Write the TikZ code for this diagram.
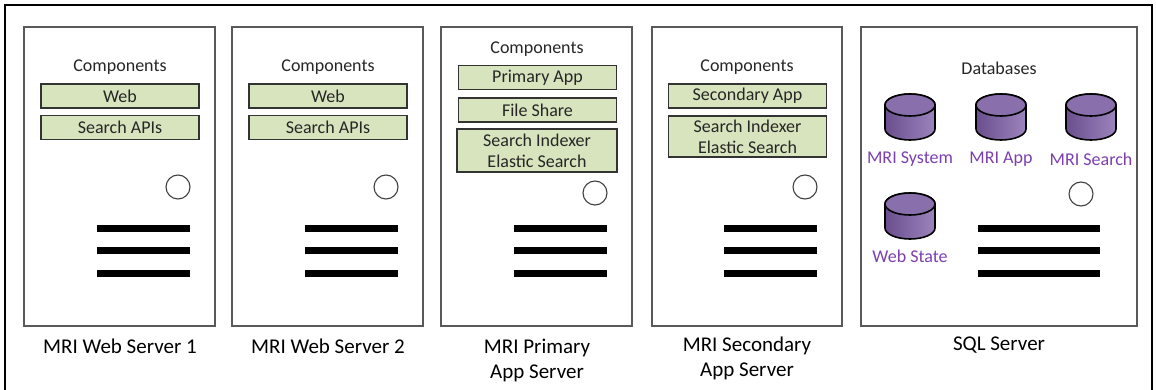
\documentclass[tikz,border=0pt]{standalone}
\usepackage{fontspec}
\setmainfont{Carlito}

\definecolor{compgreen}{HTML}{D7E4BD}
\definecolor{dbdark}{HTML}{6A4E8E}
\definecolor{dblight}{HTML}{9C84BC}
\definecolor{dbtop}{HTML}{8A6FAD}
\definecolor{dbtext}{HTML}{7B3FB0}
\definecolor{boxgray}{HTML}{595959}
\definecolor{txtgray}{HTML}{262626}

\tikzset{
  serverbox/.style={draw=boxgray, line width=1.3},
  compbox/.style={draw=black!80, line width=1.3, fill=compgreen, text=txtgray,
    minimum width=158, minimum height=24, inner sep=0, align=center,
    font=\fontsize{18}{21}\selectfont},
  headtext/.style={text=txtgray, inner sep=0, font=\fontsize{18}{21}\selectfont},
  srvlabel/.style={text=black, inner sep=0, align=center,
    font=\fontsize{21}{25}\selectfont},
  ledcirc/.style={circle, draw=black!75, line width=1.1, minimum size=24, inner sep=0},
  barline/.style={black, line width=7},
  dbside/.style={draw=black, line width=1.6, left color=dbdark, right color=dblight},
  dbend/.style={draw=black, line width=1.6, fill=dbtop},
  dbname/.style={text=dbtext, inner sep=0, font=\fontsize{18}{21}\selectfont}
}

\begin{document}
\begin{tikzpicture}[x=1pt, y=-1pt]

\useasboundingbox (0,0) rectangle (1156,390);

% outer frame
\draw[black, line width=1.3] (5,392) -- (5,5) -- (1152,5) -- (1152,392);

% server boxes
\draw[serverbox] (24,27) rectangle (215,326);
\draw[serverbox] (232,27) rectangle (423,326);
\draw[serverbox] (441,27) rectangle (632,326);
\draw[serverbox] (652,27) rectangle (842,326);
\draw[serverbox] (861,27) rectangle (1137,326);

% web server 1
\draw (120,67) node (comp1) [headtext] {Components};
\draw (120,96) node (web1) [compbox] {Web};
\draw (120,127.5) node (api1) [compbox] {Search APIs};
\draw (178,187) node (led1) [ledcirc] {};
\draw[barline] (97,228) -- (190,228);
\draw[barline] (97,250) -- (190,250);
\draw[barline] (97,273) -- (190,273);
\draw (120,346) node (lab1) [srvlabel] {MRI Web Server 1};

% web server 2
\draw (328,67) node (comp2) [headtext] {Components};
\draw (328,96) node (web2) [compbox] {Web};
\draw (328,127.5) node (api2) [compbox] {Search APIs};
\draw (386,187) node (led2) [ledcirc] {};
\draw[barline] (305,228) -- (398,228);
\draw[barline] (305,250) -- (398,250);
\draw[barline] (305,273) -- (398,273);
\draw (328,346) node (lab2) [srvlabel] {MRI Web Server 2};

% primary app server
\draw (537,49) node (comp3) [headtext] {Components};
\draw (537.5,77.5) node (prim3) [compbox] {Primary App};
\draw (537.5,110) node (share3) [compbox] {File Share};
\draw (537,150.5) node (idx3) [compbox, minimum width=160, minimum height=43] {Search Indexer\\Elastic Search};
\draw (595,193) node (led3) [ledcirc] {};
\draw[barline] (514,228) -- (607,228);
\draw[barline] (514,250) -- (607,250);
\draw[barline] (514,273) -- (607,273);
\draw (537,360) node (lab3) [srvlabel] {MRI Primary\\App Server};

% secondary app server
\draw (747,67) node (comp4) [headtext] {Components};
\draw (747.5,96) node (sec4) [compbox] {Secondary App};
\draw (747.5,136.5) node (idx4) [compbox, minimum height=41] {Search Indexer\\Elastic Search};
\draw (805,187) node (led4) [ledcirc] {};
\draw[barline] (724,228) -- (817,228);
\draw[barline] (724,250) -- (817,250);
\draw[barline] (724,273) -- (817,273);
\draw (747,358) node (lab4) [srvlabel] {MRI Secondary\\App Server};

% sql server
\draw (999,68) node (dbhead) [headtext] {Databases};

\draw[dbside] (885,105) -- ++(0,24) arc (180:0:25 and 11) -- ++(0,-24) arc (0:-180:25 and 11) -- cycle;
\draw[dbend] (910,105) ellipse (25 and 11);
\draw[dbside] (976,105) -- ++(0,24) arc (180:0:25 and 11) -- ++(0,-24) arc (0:-180:25 and 11) -- cycle;
\draw[dbend] (1001,105) ellipse (25 and 11);
\draw[dbside] (1066,105) -- ++(0,24) arc (180:0:25 and 11) -- ++(0,-24) arc (0:-180:25 and 11) -- cycle;
\draw[dbend] (1091,105) ellipse (25 and 11);
\draw[dbside] (885,204) -- ++(0,24) arc (180:0:25 and 11) -- ++(0,-24) arc (0:-180:25 and 11) -- cycle;
\draw[dbend] (910,204) ellipse (25 and 11);

\draw (910,159) node (nsys) [dbname] {MRI System};
\draw (1001,159) node (napp) [dbname] {MRI App};
\draw (1091,159) node (nsrch) [dbname] {MRI Search};
\draw (910,256) node (nweb) [dbname] {Web State};
\draw (1081,194) node (led5) [ledcirc] {};
\draw[barline] (978,228) -- (1100,228);
\draw[barline] (978,250) -- (1100,250);
\draw[barline] (978,273) -- (1100,273);
\draw (999,345) node (lab5) [srvlabel] {SQL Server};

\end{tikzpicture}
\end{document}
